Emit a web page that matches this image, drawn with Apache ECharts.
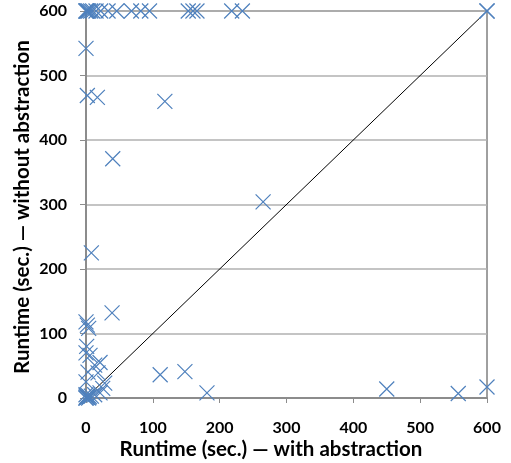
<!DOCTYPE html>
<html>
<head>
<meta charset="utf-8">
<script src="https://cdn.jsdelivr.net/npm/echarts@6/dist/echarts.min.js"></script>
<style>html,body{margin:0;padding:0;background:#fff}#c{width:511px;height:463px}</style>
</head>
<body>
<div id="c"></div>
<script>
const xTicks = [0, 100, 200, 300, 400, 500, 600];
const yTicks = [0, 100, 200, 300, 400, 500, 600];
const xTitle = 'Runtime (sec.) \u2014 with abstraction';
const yTitle = 'Runtime (sec.) \u2014 without abstraction';
const withAbstraction = [
  0,0,1,2,4,7,10,15,22,33,46,68,82,95,153,160,166,218,234,600,600,
  0,2,17,118,40,265,8,39,0,2,4,1,0,6,13,21,3,18,28,0,25,21,13,0,0,1,2,3,5,0,4,8,
  111,148,181,450,557,600
];
const withoutAbstraction = [
  600,600,600,600,600,600,600,600,600,600,600,600,600,600,600,600,600,600,600,600,600,
  542,469,466,460,371,304,225,132,118,113,108,80,70,66,51,55,40,39,23,25,15,8,5,0,0,2,1,4,2,5,0,3,
  36,41,8,14,7,17
];
const diagonal = [[0, 0], [600, 600]];

const points = withAbstraction.map((x, i) => [x, withoutAbstraction[i]]);
const chart = echarts.init(document.getElementById('c'));
const font = 'Lato, "Liberation Sans", sans-serif';
chart.setOption({
  animation: false,
  grid: {left: 86, right: 24, top: 11, bottom: 65, show: true, borderColor: '#404040', borderWidth: 1},
  xAxis: {
    type: 'value', min: xTicks[0], max: xTicks[xTicks.length - 1], interval: 100,
    axisLine: {onZero: false, lineStyle: {color: '#8c8c8c', width: 2}},
    axisTick: {show: true, length: 5, lineStyle: {color: '#8c8c8c'}},
    splitLine: {show: false},
    axisLabel: {margin: 22, color: '#000', fontFamily: font, fontWeight: 'bold', fontSize: 16}
  },
  yAxis: {
    type: 'value', min: yTicks[0], max: yTicks[yTicks.length - 1], interval: 100,
    axisLine: {onZero: false, show: true, lineStyle: {color: '#8c8c8c', width: 2}},
    axisTick: {show: true, length: 6, lineStyle: {color: '#8c8c8c'}},
    splitLine: {show: true, lineStyle: {color: '#b0b0b0', width: 1.5}},
    axisLabel: {margin: 19, color: '#000', fontFamily: font, fontWeight: 'bold', fontSize: 16}
  },
  graphic: [
    {type: 'text', x: 271, y: 449, style: {text: xTitle, fill: '#000', font: 'bold 20.5px ' + font, align: 'center', verticalAlign: 'middle'}},
    {type: 'text', x: 22, y: 207, rotation: Math.PI / 2, style: {text: yTitle, fill: '#000', font: 'bold 20.5px ' + font, align: 'center', verticalAlign: 'middle'}}
  ],
  series: [
    {
      type: 'line', data: diagonal, symbol: 'none', silent: true,
      lineStyle: {color: '#000', width: 1}, z: 1
    },
    {
      type: 'scatter', data: points,
      symbol: 'path://M0,0L10,10M10,0L0,10', symbolSize: 15,
      itemStyle: {color: 'rgba(0,0,0,0)', borderColor: '#4f81bd', borderWidth: 1.2, opacity: 1},
      z: 3
    }
  ]
});
</script>
</body>
</html>
